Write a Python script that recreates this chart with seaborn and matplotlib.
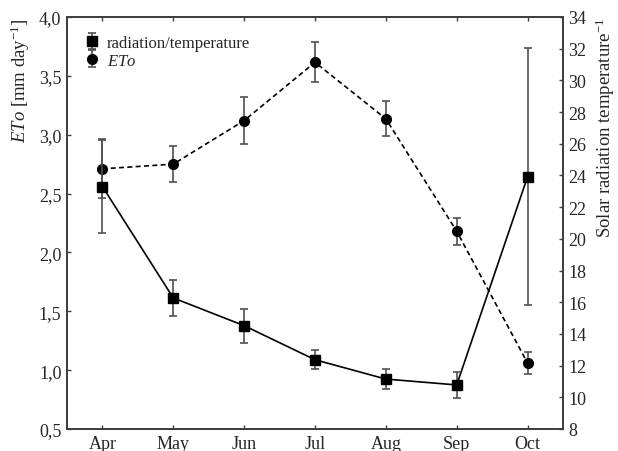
import matplotlib
matplotlib.use("Agg")
import matplotlib.pyplot as plt
import seaborn as sns
import numpy as np
import pandas as pd

months = ["Apr", "May", "Jun", "Jul", "Aug", "Sep", "Oct"]
eto = [2.71, 2.75, 3.12, 3.615, 3.135, 2.18, 1.06]
eto_err = [0.25, 0.15, 0.20, 0.17, 0.15, 0.115, 0.095]
rad = [23.3, 16.27, 14.52, 12.37, 11.15, 10.78, 23.92]
rad_err = [2.95, 1.15, 1.07, 0.6, 0.62, 0.82, 8.1]
left_ticks = [0.5, 1.0, 1.5, 2.0, 2.5, 3.0, 3.5, 4.0]
right_ticks = list(range(8, 35, 2))

sns.set_style("ticks")
plt.rcParams["font.family"] = ["Liberation Serif", "DejaVu Serif"]
plt.rcParams["mathtext.fontset"] = "custom"
plt.rcParams["mathtext.rm"] = "Liberation Serif"
plt.rcParams["mathtext.it"] = "Liberation Serif:italic"

x = np.arange(len(months))
df = pd.DataFrame({"x": x, "eto": eto, "rad": rad})

fig = plt.figure(figsize=(6.18, 4.52), dpi=100)
ax = fig.add_axes([0.1084, 0.0487, 0.8026, 0.9115])
ax2 = ax.twinx()

spine_col = "#404040"
err_col = "#505050"

sns.lineplot(data=df, x="x", y="eto", ax=ax, color="black", lw=1.2,
             linestyle=(0, (3, 2)), marker=None)
h_eto = ax.errorbar(x, eto, yerr=eto_err, fmt="o", color="black", ms=7,
                    ecolor=err_col, elinewidth=1.2, capsize=3, capthick=1.2, zorder=3)

sns.lineplot(data=df, x="x", y="rad", ax=ax2, color="black", lw=1.2, marker=None)
h_rad = ax2.errorbar(x, rad, yerr=rad_err, fmt="s", color="black", ms=7,
                     ecolor=err_col, elinewidth=1.2, capsize=3, capthick=1.2, zorder=3)

ax.set_xlim(-0.5, 6.5)
ax.set_ylim(0.5, 4.0)
ax2.set_ylim(8, 34)
ax.set_xticks(x)
ax.set_xticklabels(months)
ax.set_yticks(left_ticks)
ax.set_yticklabels([f"{v:.1f}".replace(".", ",") for v in left_ticks])
ax2.set_yticks(right_ticks)
ax2.set_yticklabels([str(v) for v in right_ticks])
ax.set_xlabel("")
ax2.set_xlabel("")

fs = 13
ax.tick_params(axis="x", direction="in", top=True, length=3, width=1,
               labelsize=fs, color=spine_col, pad=4)
ax.tick_params(axis="y", direction="in", right=False, length=3, width=1,
               labelsize=fs, color=spine_col, pad=4)
ax2.tick_params(axis="y", direction="in", length=3, width=1,
                labelsize=fs, color=spine_col, pad=4)

for a in (ax, ax2):
    for s in a.spines.values():
        s.set_visible(True)
        s.set_color(spine_col)
        s.set_linewidth(1.4)

ax.set_ylabel(r"$\it{ETo}$ [mm day$^{\mathrm{-1}}$]", fontsize=13.5, labelpad=5, loc="top")
ax2.set_ylabel(r"Solar radiation temperature$^{\mathrm{-1}}$", fontsize=13.5,
               labelpad=5, loc="top")

leg = ax2.legend([h_rad, h_eto], ["radiation/temperature", r"$\it{ETo}$"],
                 loc="upper left", bbox_to_anchor=(0.01, 0.985), frameon=False,
                 fontsize=12, handlelength=1.0, handletextpad=0.4,
                 labelspacing=0.1, borderaxespad=0.3)

fig.savefig("out.png", dpi=100)
